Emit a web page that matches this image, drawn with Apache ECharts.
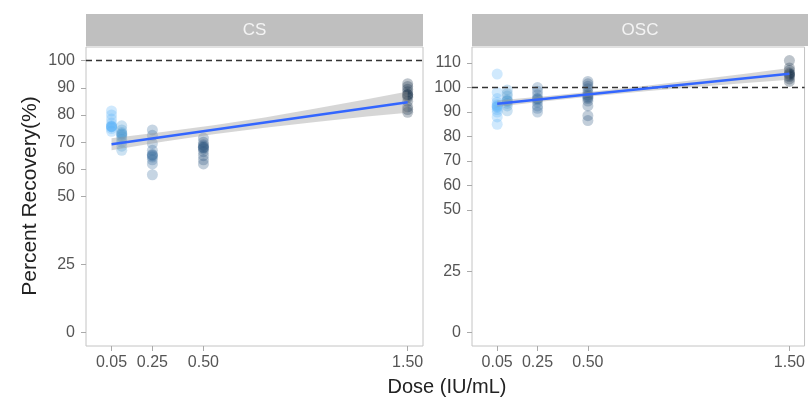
<!DOCTYPE html>
<html>
<head>
<meta charset="utf-8">
<script src="https://cdn.jsdelivr.net/npm/echarts@6/dist/echarts.min.js"></script>
<style>
html,body{margin:0;padding:0;background:#fff;}
#chart{width:808px;height:401px;}
</style>
</head>
<body>
<div id="chart"></div>
<script>
// ---- data ----
const doses = [0.05, 0.1, 0.25, 0.5, 1.5];
const xTicks = [0.05, 0.25, 0.5, 1.5];
const csYTicks = [0, 25, 50, 60, 70, 80, 90, 100];
const oscYTicks = [0, 25, 50, 60, 70, 80, 90, 100, 110];

// CS recoveries per dose
const cs005 = [81.5, 80, 78.5, 77, 76, 75.7, 75.7, 75.7, 75, 74];
const cs010 = [76, 74.5, 73.5, 73, 73, 72.5, 72, 71, 70, 68.5, 67];
const cs025 = [74.5, 72.5, 69.5, 67, 65.5, 65.3, 65, 64.5, 63.5, 62, 58];
const cs050 = [71.5, 70, 69, 68.5, 68, 68, 67.5, 66.5, 65, 63.5, 62];
const cs150 = [91.5, 90.5, 89.5, 88.5, 87.5, 87.5, 87, 86.5, 85, 83, 82, 81];

// OSC recoveries per dose
const osc005 = [105.5, 98, 95.5, 94, 93, 92.5, 92, 92, 91, 90, 88, 85];
const osc010 = [99, 97.5, 96.5, 95, 94.5, 94.5, 93.5, 92.5, 90.5];
const osc025 = [100, 98.5, 97, 95.5, 95.5, 95, 94, 92.5, 91.5, 90];
const osc050 = [102.5, 101.5, 100.5, 99.5, 98, 97, 96.5, 96, 95.5, 94.5, 92.5, 88.5, 86.5];
const osc150 = [111, 108, 107, 106, 105.5, 105.5, 105, 104.5, 103.5, 102.5];

// fitted lines and confidence bands
const fitX = [0.05, 1.5];
const csFit = [69.2, 84.7];
const oscFit = [93.4, 105.6];
const bandX = [0.05, 0.3, 0.55, 0.8, 1.05, 1.3, 1.5];
const csLower = [67.0, 70.1, 72.9, 75.3, 77.4, 79.4, 80.8];
const csUpper = [71.4, 73.7, 76.2, 79.1, 82.4, 85.8, 88.6];
const oscLower = [92.1, 94.45, 96.6, 98.6, 100.3, 101.95, 103.2];
const oscUpper = [94.7, 96.55, 98.6, 100.8, 103.3, 105.85, 108.0];
const refLine = 100;

// ---- styles ----
const doseColors = ['#56B1F7', '#4896d2', '#33699a', '#25507a', '#132B43'];
const FONT = '"Liberation Sans", Arial, sans-serif';

function pointsFor(groups) {
  const out = [];
  groups.forEach((g, i) => {
    g.forEach(v => out.push({ value: [doses[i], v], itemStyle: { color: doseColors[i] } }));
  });
  return out;
}
const csPoints = pointsFor([cs005, cs010, cs025, cs050, cs150]);
const oscPoints = pointsFor([osc005, osc010, osc025, osc050, osc150]);

function bandSeries(idx, lower, upper) {
  return {
    type: 'custom', xAxisIndex: idx, yAxisIndex: idx, z: 3, silent: true,
    data: [0],
    renderItem: function (params, api) {
      const pts = [];
      for (let i = 0; i < bandX.length; i++) pts.push(api.coord([bandX[i], upper[i]]));
      for (let i = bandX.length - 1; i >= 0; i--) pts.push(api.coord([bandX[i], lower[i]]));
      return { type: 'polygon', shape: { points: pts }, style: { fill: 'rgba(153,153,153,0.4)' } };
    }
  };
}
function fitSeries(idx, ys) {
  return {
    type: 'line', xAxisIndex: idx, yAxisIndex: idx, z: 5, silent: true,
    data: fitX.map((x, i) => [x, ys[i]]), symbol: 'none',
    lineStyle: { color: '#3366FF', width: 2.5 },
    markLine: {
      silent: true, symbol: 'none', label: { show: false },
      lineStyle: { color: '#333', type: [6, 4], width: 1.4 },
      data: [{ yAxis: refLine }]
    }
  };
}
function scatterSeries(idx, pts) {
  return {
    type: 'scatter', xAxisIndex: idx, yAxisIndex: idx, z: 2, silent: true,
    data: pts, symbolSize: 11, itemStyle: { opacity: 0.28 }
  };
}
function xAxisFor(idx) {
  return {
    type: 'value', gridIndex: idx, min: -0.075, max: 1.575,
    axisLine: { show: false, onZero: false },
    splitLine: { show: false },
    axisTick: { show: true, customValues: xTicks, length: 5, lineStyle: { color: '#aaa' } },
    axisLabel: { customValues: xTicks, formatter: v => v.toFixed(2), fontSize: 16, color: '#555', margin: 9, fontFamily: FONT }
  };
}
function yAxisFor(idx, ticks, min, max) {
  return {
    type: 'value', gridIndex: idx, min: min, max: max,
    axisLine: { show: false, onZero: false },
    splitLine: { show: false },
    axisTick: { show: true, customValues: ticks, length: 5, lineStyle: { color: '#aaa' } },
    axisLabel: { customValues: ticks, fontSize: 16, color: '#555', margin: 11, fontFamily: FONT }
  };
}

const chart = echarts.init(document.getElementById('chart'), null, { renderer: 'canvas' });
chart.setOption({
  animation: false,
  backgroundColor: '#fff',
  grid: [
    { left: 86, top: 47, width: 337, height: 299, show: true, borderColor: '#c4c4c4', borderWidth: 1, backgroundColor: '#fff' },
    { left: 472, top: 47, width: 336, height: 299, show: true, borderColor: '#c4c4c4', borderWidth: 1, backgroundColor: '#fff' }
  ],
  xAxis: [xAxisFor(0), xAxisFor(1)],
  yAxis: [yAxisFor(0, csYTicks, -5, 105), yAxisFor(1, oscYTicks, -5.55, 116.55)],
  series: [
    scatterSeries(0, csPoints), bandSeries(0, csLower, csUpper), fitSeries(0, csFit),
    scatterSeries(1, oscPoints), bandSeries(1, oscLower, oscUpper), fitSeries(1, oscFit)
  ],
  graphic: [
    { type: 'rect', shape: { x: 86, y: 14, width: 337, height: 32 }, style: { fill: '#bfbfbf' } },
    { type: 'text', x: 254.5, y: 30, style: { text: 'CS', fill: '#f4f4f4', fontSize: 17, fontFamily: FONT, align: 'center', verticalAlign: 'middle' } },
    { type: 'rect', shape: { x: 472, y: 14, width: 340, height: 32 }, style: { fill: '#bfbfbf' } },
    { type: 'text', x: 640, y: 30, style: { text: 'OSC', fill: '#f4f4f4', fontSize: 17, fontFamily: FONT, align: 'center', verticalAlign: 'middle' } },
    { type: 'text', x: 30, y: 196, rotation: Math.PI / 2, style: { text: 'Percent Recovery(%)', fill: '#222', fontSize: 21, fontFamily: FONT, align: 'center', verticalAlign: 'middle' } },
    { type: 'text', x: 447, y: 387, style: { text: 'Dose (IU/mL)', fill: '#222', fontSize: 20, fontFamily: FONT, align: 'center', verticalAlign: 'middle' } }
  ]
});
</script>
</body>
</html>
